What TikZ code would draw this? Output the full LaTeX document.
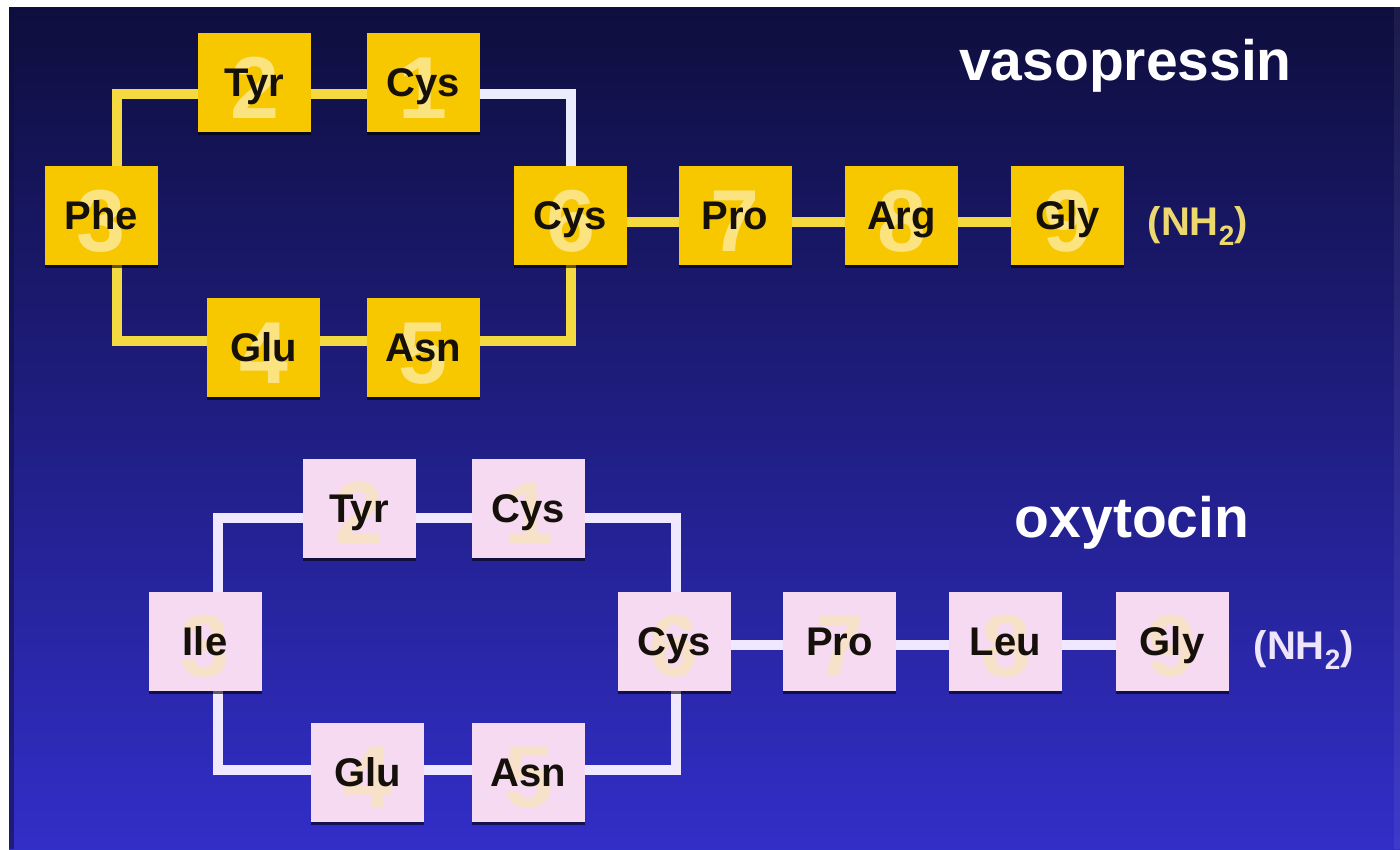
\documentclass[tikz,border=0pt]{standalone}
\usepackage{fontspec}
\setmainfont{Liberation Sans}
\usetikzlibrary{shadows,calc}
\definecolor{bgtop}{RGB}{14,14,62}
\definecolor{bgmid}{RGB}{32,32,132}
\definecolor{bgbot}{RGB}{50,46,200}
\definecolor{cvfill}{RGB}{247,199,0}
\definecolor{cvline}{RGB}{244,218,64}
\definecolor{cwline}{RGB}{236,236,255}
\definecolor{cofill}{RGB}{245,218,242}
\definecolor{coline}{RGB}{240,232,255}
\definecolor{cboxtext}{RGB}{22,16,10}
\definecolor{cvnh}{RGB}{236,216,110}
\definecolor{conh}{RGB}{238,228,252}
\pgfdeclarelayer{bglayer}
\pgfdeclarelayer{linelayer}
\pgfsetlayers{bglayer,linelayer,main}
\tikzset{
  aabox/.style={rectangle, minimum width=113pt, minimum height=99pt, inner sep=0pt,
    text=cboxtext, font=\fontsize{40}{42}\selectfont\bfseries,
    text height=28.5pt, text depth=0pt,
    drop shadow={shadow xshift=0pt, shadow yshift=-3pt, opacity=0.6, fill=black}},
  vbox/.style={aabox, fill=cvfill},
  obox/.style={aabox, fill=cofill},
  numglyph/.style={draw=none, fill=none, minimum width=0pt, minimum height=0pt, inner sep=0pt,
    font=\fontsize{88}{90}\selectfont\bfseries, text height=63pt, text depth=0pt},
  vnum/.style={path picture={\node[numglyph, text=white, text opacity=0.5]
      at ([yshift=-4pt]path picture bounding box.center) {#1};}},
  onum/.style={path picture={\node[numglyph, text=yellow!70!white, text opacity=0.25]
      at ([yshift=-4pt]path picture bounding box.center) {#1};}},
  vlink/.style={draw=cvline, line width=10pt, line join=miter},
  wlink/.style={draw=cwline, line width=10pt, line join=miter},
  olink/.style={draw=coline, line width=10pt, line join=miter},
  title/.style={text=white, font=\fontsize{57}{60}\selectfont\bfseries, anchor=base, inner sep=0pt},
  nhtext/.style={font=\fontsize{40}{44}\selectfont\bfseries, anchor=base, inner sep=0pt}
}
\begin{document}
\begin{tikzpicture}[x=1pt,y=-1pt]
\useasboundingbox (0,0) rectangle (1400,849);
\begin{pgfonlayer}{bglayer}
  \fill[white] (0,0) rectangle (1400,849);
  \fill[top color=bgtop, middle color=bgmid, bottom color=bgbot] (9,7) rectangle (1400,849);
  \fill[bgtop, opacity=0.55] (9,7) rectangle (14,849);
  \fill[white, opacity=0.06] (1394,7) rectangle (1400,849);
\end{pgfonlayer}

% vasopressin
\node[vbox, vnum=2] (vTyr) at (254.5,82.5) {Tyr};
\node[vbox, vnum=1] (vCysA) at (423,82.5) {Cys};
\node[vbox, vnum=3] (vPhe) at (101,215.5) {Phe};
\node[vbox, vnum=6] (vCysB) at (570.5,215.5) {Cys};
\node[vbox, vnum=7] (vPro) at (735,215.5) {Pro};
\node[vbox, vnum=8] (vArg) at (901.5,215.5) {Arg};
\node[vbox, vnum=9] (vGly) at (1067.5,215.5) {Gly};
\node[vbox, vnum=4] (vGlu) at (263.5,347.5) {Glu};
\node[vbox, vnum=5] (vAsn) at (423,347.5) {Asn};
\node[title] (vtitle) at (1125.5,80) {vasopressin};
\node[nhtext, text=cvnh] (vnh) at (1198,235) {(NH\textsubscript{2})};

\begin{pgfonlayer}{linelayer}
  \draw[vlink] ($(vPhe.center)+(16,0)$) |- ($(vTyr.center)+(0,11.5)$);
  \draw[vlink] ($(vTyr.center)+(0,11.5)$) -- ($(vCysA.center)+(0,11.5)$);
  \draw[wlink] ($(vCysA.center)+(0,11.5)$) -| (vCysB.center);
  \draw[vlink] (vCysB.center) |- ($(vAsn.center)+(0,-7)$);
  \draw[vlink] ($(vAsn.center)+(0,-7)$) -- ($(vGlu.center)+(0,-7)$);
  \draw[vlink] ($(vGlu.center)+(0,-7)$) -| ($(vPhe.center)+(16,0)$);
  \draw[vlink] ($(vCysB.center)+(0,6.5)$) -- ($(vPro.center)+(0,6.5)$);
  \draw[vlink] ($(vPro.center)+(0,6.5)$) -- ($(vArg.center)+(0,6.5)$);
  \draw[vlink] ($(vArg.center)+(0,6.5)$) -- ($(vGly.center)+(0,6.5)$);
\end{pgfonlayer}

% oxytocin
\node[obox, onum=2] (oTyr) at (359,508) {Tyr};
\node[obox, onum=1] (oCysA) at (528.5,508) {Cys};
\node[obox, onum=3] (oIle) at (205,641) {Ile};
\node[obox, onum=6] (oCysB) at (674,641) {Cys};
\node[obox, onum=7] (oPro) at (839.5,641) {Pro};
\node[obox, onum=8] (oLeu) at (1005.5,641) {Leu};
\node[obox, onum=9] (oGly) at (1172,641) {Gly};
\node[obox, onum=4] (oGlu) at (367.5,772) {Glu};
\node[obox, onum=5] (oAsn) at (528.5,772) {Asn};
\node[title] (otitle) at (1132,537) {oxytocin};
\node[nhtext, text=conh] (onh) at (1304,659) {(NH\textsubscript{2})};

\begin{pgfonlayer}{linelayer}
  \draw[olink] ($(oIle.center)+(13,0)$) |- ($(oTyr.center)+(0,10)$);
  \draw[olink] ($(oTyr.center)+(0,10)$) -- ($(oCysA.center)+(0,10)$);
  \draw[olink] ($(oCysA.center)+(0,10)$) -| ($(oCysB.center)+(2,0)$);
  \draw[olink] ($(oCysB.center)+(2,0)$) |- ($(oAsn.center)+(0,-2)$);
  \draw[olink] ($(oAsn.center)+(0,-2)$) -- ($(oGlu.center)+(0,-2)$);
  \draw[olink] ($(oGlu.center)+(0,-2)$) -| ($(oIle.center)+(13,0)$);
  \draw[olink] ($(oCysB.center)+(0,4)$) -- ($(oPro.center)+(0,4)$);
  \draw[olink] ($(oPro.center)+(0,4)$) -- ($(oLeu.center)+(0,4)$);
  \draw[olink] ($(oLeu.center)+(0,4)$) -- ($(oGly.center)+(0,4)$);
\end{pgfonlayer}
\end{tikzpicture}
\end{document}
